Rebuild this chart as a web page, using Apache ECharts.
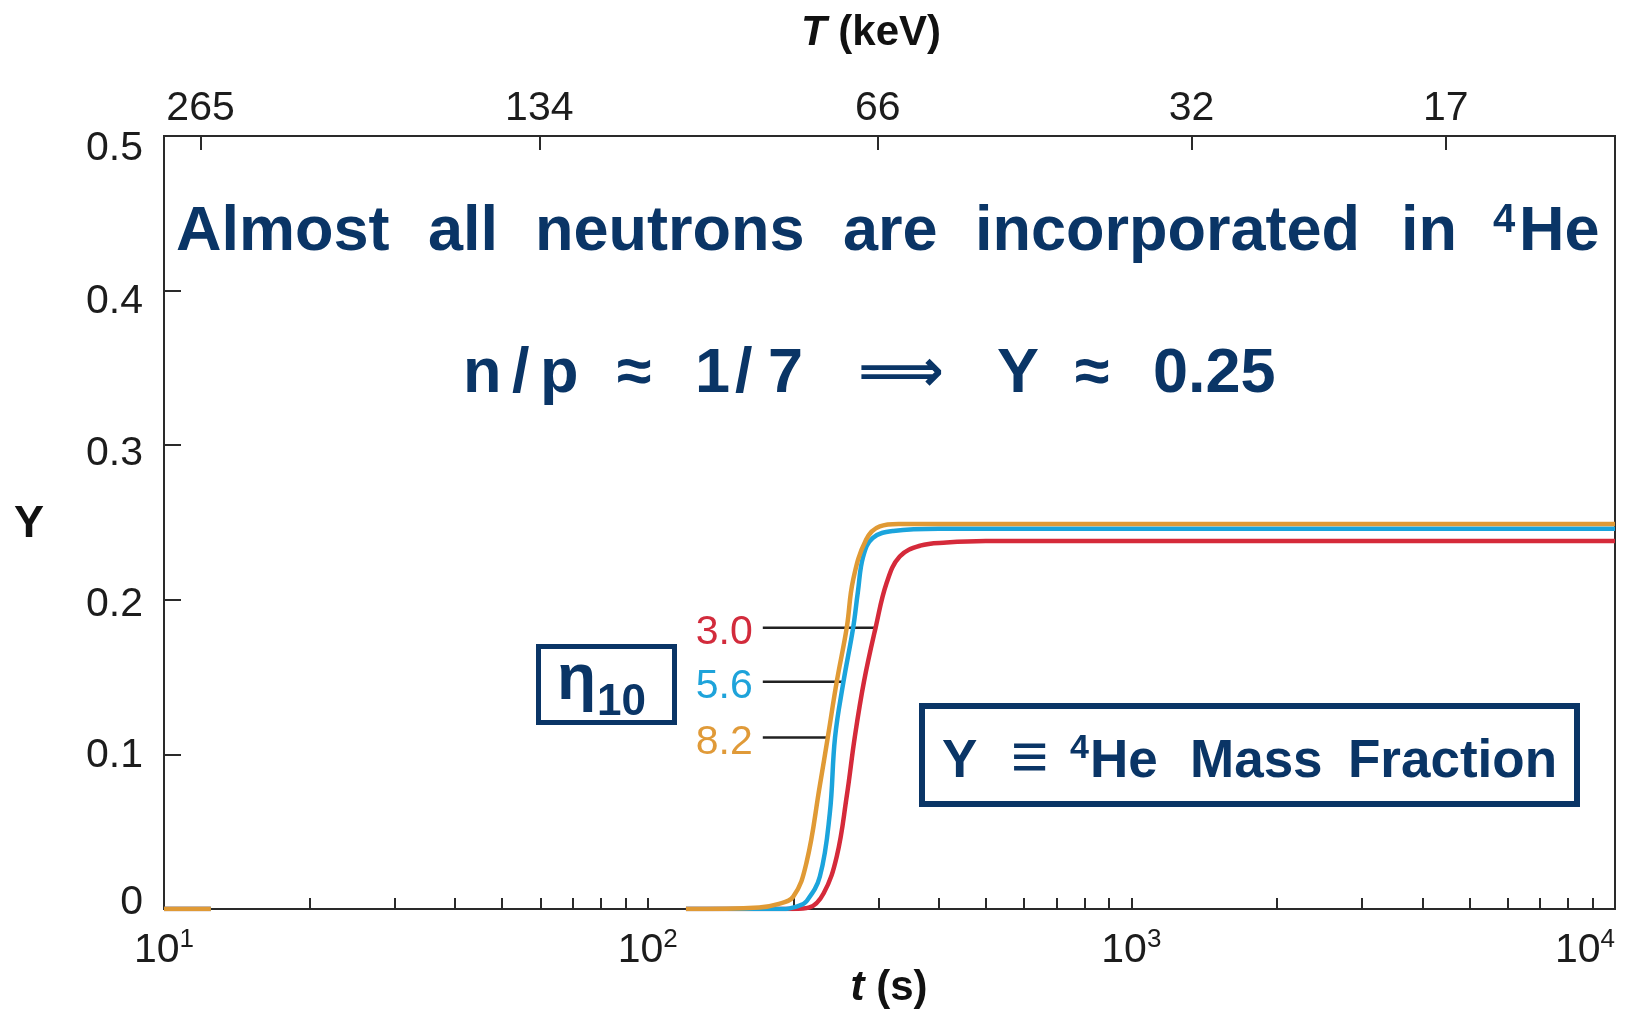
<!DOCTYPE html>
<html>
<head>
<meta charset="utf-8">
<title>4He mass fraction</title>
<script src="https://cdn.jsdelivr.net/npm/echarts@6/dist/echarts.min.js"></script>
<style>
  html, body { margin: 0; padding: 0; background: #fff; }
  #chart { width: 1639px; height: 1011px; }
</style>
</head>
<body>
<div id="chart"></div>
<script>
// curves: time t (s) and Y, '-' breaks the line
var tRed = [10, 12.5, 20, 120, 200, 216, 231, 246, 258, 268, 280, 296, 312, 332, 366, 415, 500, 1000, 10000];
var yRed = [0, 0, '-', 0, 0, 0.001, 0.010, 0.034, 0.073, 0.111, 0.147, 0.182, 0.211, 0.228, 0.235, 0.237, 0.238, 0.238, 0.238];

var tBlue = [10, 12.5, 20, 120, 190, 205, 213, 227, 238, 244, 254, 266, 272, 279, 292, 322, 400, 1000, 10000];
var yBlue = [0, 0, '-', 0, 0, 0.002, 0.005, 0.021, 0.062, 0.111, 0.147, 0.182, 0.205, 0.228, 0.240, 0.2445, 0.246, 0.246, 0.246];

var tOrange = [10, 12.5, 20, 120, 170, 185, 200, 213, 227, 236, 246, 258, 266, 283, 302, 330, 1000, 10000];
var yOrange = [0, 0, '-', 0, 0.001, 0.003, 0.008, 0.030, 0.080, 0.112, 0.147, 0.182, 0.213, 0.239, 0.2475, 0.249, 0.249, 0.249];

// eta10 labels and their leader lines
var etaNames = ['3.0', '5.6', '8.2'];
var etaColors = ['#d22b3c', '#1ea3da', '#e09a38'];
var leaderY = [0.182, 0.147, 0.111];
var leaderStart = 173;
var leaderEnd = [297, 254, 236];

// top axis: temperature labels and the times they sit at
var topTickT = ['265', '134', '66', '32', '17'];
var topTickTime = [11.9, 59.7, 299, 1332, 4467];

// minor ticks on the time axis
var minorTickTime = [20, 30, 40, 50, 60, 70, 80, 90, 200, 300, 400, 500, 600, 700, 800, 900,
                     2000, 3000, 4000, 5000, 6000, 7000, 8000, 9000];

var navy = '#0a3566';
var ink = '#1c1c1c';
var fam = '"Liberation Sans", Arial, Helvetica, sans-serif';

function pairs(t, y) {
	return t.map(function (v, i) { return [v, y[i]]; });
}

var topPos = topTickTime.map(function (v) { return Math.log10(v); });
var minorPos = minorTickTime.map(function (v) { return Math.log10(v); });

// small vertical nudges of y tick labels, as in the picture
var yShift = { '0': -6, '0.1': 1, '0.2': 5, '0.3': 8, '0.4': 11, '0.5': 13 };
var yRich = {};
Object.keys(yShift).forEach(function (k, i) {
	var d = yShift[k];
	yRich['s' + i] = {
		fontSize: 41, fontFamily: fam, color: ink,
		padding: d >= 0 ? [2 * d, 0, 0, 0] : [0, 0, -2 * d, 0]
	};
});

var curveSeries = [
	{ name: '3.0', t: tRed, y: yRed, color: '#d52a3a' },
	{ name: '5.6', t: tBlue, y: yBlue, color: '#1ba4dc' },
	{ name: '8.2', t: tOrange, y: yOrange, color: '#e09a35' }
].map(function (s) {
	return {
		name: s.name,
		type: 'line',
		xAxisIndex: 0,
		yAxisIndex: 0,
		data: pairs(s.t, s.y),
		showSymbol: false,
		smooth: 0.4,
		lineStyle: { color: s.color, width: 4.5 },
		silent: true,
		z: 3
	};
});

var leaderSeries = etaNames.map(function (name, i) {
	return {
		type: 'line',
		xAxisIndex: 0,
		yAxisIndex: 0,
		symbol: 'circle',
		symbolSize: 0,
		silent: true,
		lineStyle: { color: '#222', width: 2.5 },
		data: [
			{
				value: [leaderStart, leaderY[i]],
				label: {
					show: true, position: 'left', distance: 10, offset: [0, 5],
					formatter: name, color: etaColors[i],
					fontSize: 41, fontFamily: fam
				}
			},
			{ value: [leaderEnd[i], leaderY[i]] }
		],
		z: 2
	};
});

function txt(text, x, y, size, opts) {
	opts = opts || {};
	return {
		type: 'text',
		x: x, y: y,
		z: 10,
		silent: true,
		style: {
			text: text,
			fontSize: size,
			fontWeight: opts.weight || 'bold',
			fontStyle: opts.style || 'normal',
			fontFamily: opts.family || fam,
			fill: opts.color || navy,
			align: opts.align || 'left',
			textAlign: opts.align || 'left',
			verticalAlign: 'middle',
			textVerticalAlign: 'middle',
			rich: opts.rich
		}
	};
}

var graphics = [
	// headline
	txt('Almost', 176, 233, 63), txt('all', 428, 233, 63), txt('neutrons', 535, 233, 63),
	txt('are', 843, 233, 63), txt('incorporated', 975, 233, 63), txt('in', 1401, 233, 63),
	txt('4', 1493, 221, 40), txt('He', 1519, 233, 63),
	// n/p line
	txt('n', 463, 375, 63), txt('/', 512, 375, 63), txt('p', 540, 375, 63),
	txt('\u2248', 617, 375, 63), txt('1', 695, 375, 63), txt('/', 735, 375, 63),
	txt('7', 768, 375, 63), txt('\u27F9', 858, 375, 60, { family: '"DejaVu Sans", sans-serif' }),
	txt('Y', 997, 375, 63), txt('\u2248', 1075, 375, 63), txt('0.25', 1153, 375, 63),
	// eta box
	{
		type: 'rect', z: 10, silent: true,
		shape: { x: 538.5, y: 646.5, width: 136, height: 76 },
		style: { fill: 'none', stroke: navy, lineWidth: 5 }
	},
	txt('\u03B7', 557, 681, 64, { weight: 'bold' }),
	txt('10', 597, 703, 44),
	// definition box
	{
		type: 'rect', z: 10, silent: true,
		shape: { x: 922, y: 706, width: 655, height: 98 },
		style: { fill: 'none', stroke: navy, lineWidth: 6 }
	},
	txt('Y', 942, 762, 53), txt('\u2261', 1011, 760, 64), txt('4', 1070, 749, 34),
	txt('He', 1090, 762, 53), txt('Mass', 1190, 762, 53), txt('Fraction', 1348, 762, 53),
	// axis titles
	txt('Y', 29, 525, 45, { color: '#111', align: 'center' }),
	txt('{i|T} (keV)', 871, 33, 42, { color: '#111', align: 'center',
		rich: { i: { fontStyle: 'italic', fontWeight: 'bold', fontSize: 42, fontFamily: fam, color: '#111' } } }),
	txt('{i|t} (s)', 889, 988, 42, { color: '#111', align: 'center',
		rich: { i: { fontStyle: 'italic', fontWeight: 'bold', fontSize: 42, fontFamily: fam, color: '#111' } } })
];

var myChart = echarts.init(document.getElementById('chart'));
var option = {
	animation: false,
	backgroundColor: '#fff',
	grid: {
		left: 164, right: 24, top: 136, bottom: 102,
		show: true, borderColor: '#2a2a2a', borderWidth: 2,
		backgroundColor: 'transparent',
		containLabel: false,
		outerBoundsMode: 'none'
	},
	xAxis: [
		{
			type: 'log', logBase: 10, min: 10, max: 10000, position: 'bottom',
			axisLine: { show: true, lineStyle: { color: '#2a2a2a', width: 2 } },
			axisTick: { show: true, inside: true, length: 11, lineStyle: { color: '#2a2a2a', width: 2 } },
			minorTick: { show: false },
			splitLine: { show: false },
			axisLabel: {
				margin: 18, color: ink, fontSize: 41, fontFamily: fam,
				alignMaxLabel: 'right',
				formatter: function (v) { return '10{s|' + Math.round(Math.log10(v)) + '}'; },
				rich: { s: { fontSize: 26, fontFamily: fam, color: ink, padding: [0, 0, 22, 0] } }
			}
		},
		{
			type: 'value', min: 1, max: 4, position: 'bottom',
			axisLine: { show: false },
			axisTick: { show: true, inside: true, length: 11, customValues: minorPos,
				lineStyle: { color: '#2a2a2a', width: 2 } },
			axisLabel: { show: false },
			splitLine: { show: false }
		},
		{
			type: 'value', min: 1, max: 4, position: 'top',
			axisLine: { show: true, lineStyle: { color: '#2a2a2a', width: 2 } },
			axisTick: { show: true, inside: true, length: 14, customValues: topPos,
				lineStyle: { color: '#2a2a2a', width: 2 } },
			splitLine: { show: false },
			axisLabel: {
				customValues: topPos, margin: 7, color: ink, fontSize: 41, fontFamily: fam,
				formatter: function (v) {
					for (var i = 0; i < topPos.length; i++) {
						if (Math.abs(topPos[i] - v) < 1e-6) return topTickT[i];
					}
					return '';
				}
			}
		}
	],
	yAxis: {
		type: 'value', min: 0, max: 0.5, interval: 0.1,
		axisLine: { show: true, lineStyle: { color: '#2a2a2a', width: 2 } },
		axisTick: { show: true, inside: true, length: 17, lineStyle: { color: '#2a2a2a', width: 2 } },
		splitLine: { show: false },
		axisLabel: {
			margin: 21, color: ink, fontSize: 41, fontFamily: fam,
			formatter: function (v) {
				var k = String(+v.toFixed(1));
				var i = Object.keys(yShift).indexOf(k);
				return '{s' + i + '|' + k + '}';
			},
			rich: yRich
		}
	},
	series: leaderSeries.concat(curveSeries),
	graphic: graphics
};
myChart.setOption(option, true);
</script>
</body>
</html>
